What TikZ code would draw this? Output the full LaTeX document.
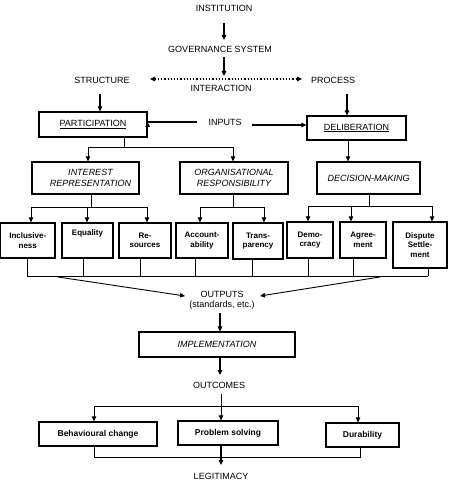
\documentclass[tikz,border=0pt]{standalone}
\usepackage{fontspec}
\setmainfont{Liberation Sans}
\usetikzlibrary{arrows.meta}
\begin{document}
\begin{tikzpicture}[x=1pt,y=-1pt,
  lbl/.style={font=\fontsize{9}{10.5}\selectfont, inner sep=0pt, align=center},
  bigbox/.style={draw, line width=1.2pt, inner sep=0pt, align=center, font=\fontsize{9}{10.5}\selectfont},
  smallbox/.style={draw, line width=1.2pt, inner sep=0pt, align=center, font=\bfseries\fontsize{8}{9.5}\selectfont},
  resbox/.style={draw, line width=1.2pt, inner sep=0pt, align=center, font=\bfseries\fontsize{8.5}{10}\selectfont},
  arr/.style={line width=1.2pt, -{Triangle[length=5pt,width=4.5pt]}},
  conn/.style={line width=0.9pt},
  carr/.style={line width=0.9pt, -{Triangle[length=5pt,width=4.5pt]}}
]
\useasboundingbox (0,0) rectangle (451,486);

% top labels
\node[lbl] (inst) at (224,8) {INSTITUTION};
\node[lbl] (gov) at (220,49) {GOVERNANCE SYSTEM};
\node[lbl] (struct) at (102,80) {STRUCTURE};
\node[lbl] (proc) at (333,80) {PROCESS};
\node[lbl] (inter) at (221,88) {INTERACTION};
\node[lbl] (inputs) at (225,122) {INPUTS};

\draw[arr] (224,23) -- (224,40);
\coordinate (gA) at (224,57);
\coordinate (gB) at (224,76);
\draw[arr] (gA) -- (gB);
\coordinate (dL) at (150,79);
\coordinate (dR) at (302,79);
\draw[line width=1.2pt, dotted, {Triangle[length=5pt,width=4.5pt]}-{Triangle[length=5pt,width=4.5pt]}] (dL) -- (dR);

% boxes row 1
\node[bigbox, minimum width=108pt, minimum height=25pt] (part) at (93,124.5) {\underline{PARTICIPATION}};
\node[bigbox, minimum width=99pt, minimum height=24pt] (delib) at (356.5,128) {\underline{DELIBERATION}};

\draw[arr] (100,94) -- (part.north -| 100,0);
\draw[arr] (347,94) -- (delib.north -| 347,0);
\coordinate (inL) at (197,122);
\coordinate (inR) at (252,125);
\draw[arr] (inL) -- (part.east |- inL) ++(0,0);
\draw[arr] (inR) -- (delib.west |- inR);

% row 2 boxes
\node[bigbox, font=\itshape\fontsize{9}{10.5}\selectfont, minimum width=107pt, minimum height=32pt] (ir) at (85.5,178) {\hspace*{10pt}INTEREST\\\hspace*{10pt}REPRESENTATION};
\node[bigbox, font=\itshape\fontsize{9}{10.5}\selectfont, minimum width=108pt, minimum height=32pt] (or) at (234,178) {ORGANISATIONAL\\RESPONSIBILITY};
\node[bigbox, font=\itshape\fontsize{9}{10.5}\selectfont, minimum width=103pt, minimum height=32pt] (dm) at (368.5,178) {DECISION-MAKING};

% participation split
\coordinate (p1) at (124,147);
\draw[conn] (part.south -| p1) -- (p1);
\draw[conn] (88,147) -- (233,147);
\draw[carr] (88,147) -- (ir.north -| 88,0);
\draw[carr] (233,147) -- (or.north -| 233,0);
\draw[carr] (delib.south -| 348,0) -- (dm.north -| 348,0);

% small boxes
\node[smallbox, minimum width=54.5pt, minimum height=35pt] (incl) at (27.75,240.5) {Inclusive-\\ness};
\node[smallbox, minimum width=51pt, minimum height=35pt] (equal) at (87.5,240.5) {Equality\\[6pt]};
\node[smallbox, minimum width=52pt, minimum height=35pt] (res) at (145,240.5) {Re-\\sources};
\node[smallbox, minimum width=52pt, minimum height=35pt] (acc) at (202,240.5) {Account-\\ability};
\node[smallbox, minimum width=50pt, minimum height=36pt] (trans) at (258,241) {Trans-\\parency};
\node[smallbox, minimum width=46pt, minimum height=36pt] (demo) at (310,240) {Demo-\\cracy};
\node[smallbox, minimum width=46pt, minimum height=36pt] (agree) at (363,240) {Agree-\\ment};
\node[smallbox, minimum width=54pt, minimum height=46pt] (disp) at (420,245) {Dispute\\Settle-\\ment};

% IR split
\draw[conn] (ir.south -| 91,0) -- (91,207);
\draw[conn] (31,207) -- (147,207);
\draw[carr] (31,207) -- (incl.north -| 31,0);
\draw[carr] (87,207) -- (equal.north -| 87,0);
\draw[carr] (147,207) -- (res.north -| 147,0);
% OR split
\draw[conn] (or.south -| 233,0) -- (233,207);
\draw[conn] (200,207) -- (264,207);
\draw[carr] (200,207) -- (acc.north -| 200,0);
\draw[carr] (264,207) -- (trans.north -| 264,0);
% DM split
\draw[conn] (dm.south -| 369,0) -- (369,206);
\draw[conn] (308,206) -- (432,206);
\draw[carr] (308,206) -- (demo.north -| 308,0);
\draw[carr] (351,206) -- (agree.north -| 351,0);
\draw[carr] (432,206) -- (disp.north -| 432,0);

% collect
\draw[conn] (27,276) -- (428,276);
\draw[conn] (incl.south -| 27,0) -- (27,276);
\draw[conn] (equal.south -| 83,0) -- (83,276);
\draw[conn] (res.south -| 140,0) -- (140,276);
\draw[conn] (acc.south -| 195,0) -- (195,276);
\draw[conn] (trans.south -| 252,0) -- (252,276);
\draw[conn] (demo.south -| 308,0) -- (308,276);
\draw[conn] (agree.south -| 353,0) -- (353,276);
\draw[conn] (disp.south -| 428,0) -- (428,276);

\node[lbl] (outputs) at (222,294) {OUTPUTS};
\node[lbl] (std) at (222,305) {(standards, etc.)};
\coordinate (oL) at (58,277);
\coordinate (oR) at (380,277);
\draw[carr] (oL) -- (185,296);
\draw[carr] (oR) -- (260,296);

% implementation
\node[bigbox, font=\itshape\fontsize{9}{10.5}\selectfont, minimum width=156pt, minimum height=25pt] (impl) at (217,344.5) {IMPLEMENTATION};
\draw[arr] (220,313) -- (impl.north -| 220,0);
\node[lbl] (outc) at (219,385) {OUTCOMES};
\draw[arr] (impl.south -| 220,0) -- (220,375);

% outcomes split
\node[resbox, minimum width=118pt, minimum height=24pt] (beh) at (98,434) {Behavioural change};
\node[resbox, minimum width=100pt, minimum height=24pt] (ps) at (228,433) {Problem solving};
\node[resbox, minimum width=73pt, minimum height=24pt] (dur) at (362.5,435) {Durability};
\draw[conn] (221,394) -- (221,406);
\draw[conn] (94,406) -- (358,406);
\draw[carr] (94,406) -- (beh.north -| 94,0);
\draw[carr] (221,406) -- (ps.north -| 221,0);
\draw[carr] (358,406) -- (dur.north -| 358,0);

% legitimacy
\draw[conn] (beh.south -| 94,0) -- (94,457) -- (360,457) -- (dur.south -| 360,0);
\node[lbl] (legit) at (221,476) {LEGITIMACY};
\draw[arr] (ps.south -| 221,0) -- (221,465);
\end{tikzpicture}
\end{document}
